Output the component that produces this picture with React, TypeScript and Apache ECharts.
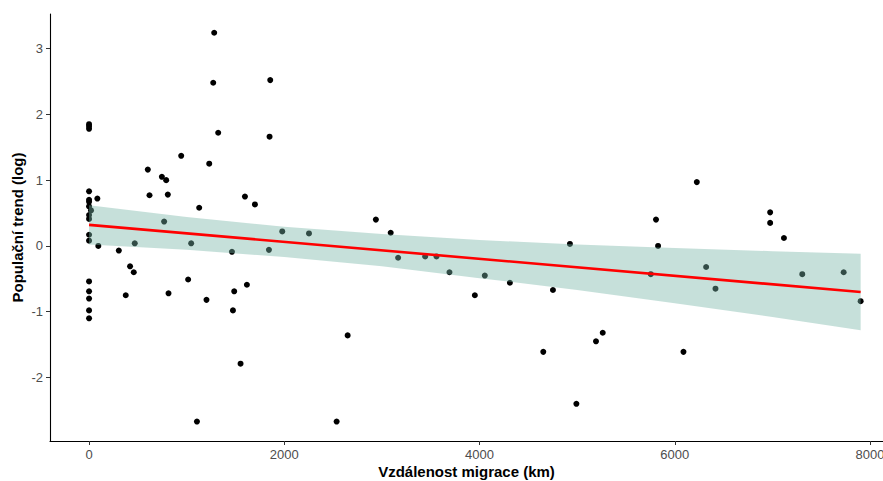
import React, { useEffect, useRef } from "react";
import * as echarts from "echarts";

const pointsX: number[] = [
  0, 0, 0, 0, 0, 0, 0, 20, 0, 0, 0, 0, 0, 0, 0, 0, 0,
  85, 95, 305, 420, 458, 376, 468, 769, 814, 1015, 1046, 1128, 1203, 1464, 1487, 1474,
  1617, 1699, 1552, 1843, 1979, 2253, 1105, 2536,
  1282, 1272, 1856, 1323, 1849, 944, 1231, 602, 746, 790, 619, 807, 1597,
  2938, 3090, 3166, 3443, 3559, 3692, 3952, 4054, 4311, 4752, 4926, 2649, 4653, 4992,
  5193, 5262, 6226, 5808, 5829, 5754, 6089, 6321, 6417, 6977, 6977, 7118, 7306, 7730, 7904,
];
const pointsY: number[] = [
  1.85, 1.82, 1.78, 0.83, 0.7, 0.67, 0.6, 0.54, 0.47, 0.41, 0.17, 0.08, -0.54, -0.69, -0.8, -0.98, -1.1,
  0.72, 0.0, -0.07, -0.31, -0.4, -0.75, 0.04, 0.37, -0.72, -0.51, 0.04, 0.58, -0.82, -0.09, -0.69, -0.98,
  -0.59, 0.63, -1.79, -0.06, 0.22, 0.19, -2.67, -2.67,
  3.24, 2.48, 2.52, 1.72, 1.66, 1.37, 1.25, 1.16, 1.05, 1.0, 0.77, 0.78, 0.75,
  0.4, 0.2, -0.18, -0.16, -0.16, -0.4, -0.75, -0.45, -0.56, -0.67, 0.03, -1.36, -1.61, -2.4,
  -1.45, -1.32, 0.97, 0.4, 0.0, -0.43, -1.61, -0.32, -0.65, 0.51, 0.35, 0.12, -0.43, -0.4, -0.84,
];

const fitX: number[] = [0, 7904];
const fitY: number[] = [0.32, -0.7];

const bandX: number[] = [0, 1000, 2000, 3000, 4000, 5000, 6000, 7000, 7904];
const bandUpper: number[] = [0.62, 0.44, 0.29, 0.18, 0.09, 0.02, -0.03, -0.08, -0.12];
const bandLower: number[] = [0.02, -0.06, -0.17, -0.31, -0.49, -0.67, -0.87, -1.08, -1.28];

const xTicks: number[] = [0, 2000, 4000, 6000, 8000];
const yTicks: number[] = [-2, -1, 0, 1, 2, 3];

const xLabel = "Vzdálenost migrace (km)";
const yLabel = "Populační trend (log)";

export default function App() {
  const ref = useRef<HTMLDivElement>(null);
  useEffect(() => {
    if (!ref.current) return;
    const chart = echarts.init(ref.current, null, { renderer: "svg" });
    const font = "'Liberation Sans', Arial, sans-serif";
    chart.setOption({
      animation: false,
      backgroundColor: "#ffffff",
      grid: { left: 50, top: 14, right: 0, bottom: 40, containLabel: false, outerBoundsMode: "none" },
      xAxis: {
        type: "value",
        min: -400,
        max: 8133,
        name: xLabel,
        nameLocation: "middle",
        nameGap: 23,
        nameMoveOverlap: false,
        nameTextStyle: { fontFamily: font, fontSize: 15, fontWeight: "bold", color: "#000" },
        splitLine: { show: false },
        axisLine: { show: true, onZero: false, lineStyle: { color: "#000", width: 1.1 } },
        axisTick: { show: true, length: 4, customValues: xTicks, lineStyle: { color: "#333" } },
        axisLabel: {
          customValues: xTicks,
          formatter: (v: number) => String(v),
          color: "#4d4d4d",
          fontFamily: font,
          fontSize: 13,
          margin: 7,
          alignMaxLabel: "center",
          alignMinLabel: "center",
        },
      },
      yAxis: {
        type: "value",
        min: -2.965,
        max: 3.525,
        name: yLabel,
        nameLocation: "middle",
        nameGap: 25,
        nameMoveOverlap: false,
        nameTextStyle: { fontFamily: font, fontSize: 15, fontWeight: "bold", color: "#000" },
        splitLine: { show: false },
        axisLine: { show: true, onZero: false, lineStyle: { color: "#000", width: 1.1 } },
        axisTick: { show: true, length: 4, customValues: yTicks, lineStyle: { color: "#333" } },
        axisLabel: {
          customValues: yTicks,
          formatter: (v: number) => String(v),
          color: "#4d4d4d",
          fontFamily: font,
          fontSize: 13,
          margin: 7,
        },
      },
      series: [
        {
          type: "scatter",
          data: pointsX.map((x, i) => [x, pointsY[i]]),
          symbolSize: 6,
          itemStyle: { color: "#000", opacity: 1 },
          z: 2,
        },
        {
          type: "custom",
          data: [0],
          z: 3,
          silent: true,
          renderItem: (_params: any, api: any) => {
            const pts: number[][] = [];
            bandX.forEach((x, i) => pts.push(api.coord([x, bandUpper[i]])));
            for (let i = bandX.length - 1; i >= 0; i--) pts.push(api.coord([bandX[i], bandLower[i]]));
            return {
              type: "polygon",
              shape: { points: pts },
              style: { fill: "rgb(119,181,168)", opacity: 0.42 },
            };
          },
        },
        {
          type: "line",
          data: fitX.map((x, i) => [x, fitY[i]]),
          symbol: "none",
          lineStyle: { color: "#ff0000", width: 2.6 },
          z: 4,
        },
      ],
    });
    return () => chart.dispose();
  }, []);
  return (
    <div
      ref={ref}
      style={{ position: "fixed", left: 0, top: 0, width: 883, height: 481, background: "#fff" }}
    />
  );
}
